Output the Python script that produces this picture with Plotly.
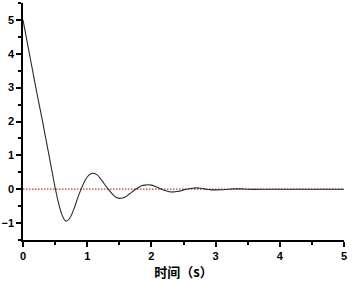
import plotly.graph_objects as go

t_values = [0.0, 0.05, 0.1, 0.15, 0.2, 0.25, 0.3, 0.35, 0.4, 0.45, 0.5, 0.55, 0.6, 0.65, 0.68,
            0.72, 0.75, 0.8, 0.85, 0.9, 0.95, 1.0, 1.05, 1.1, 1.15, 1.2, 1.25, 1.3, 1.35, 1.4,
            1.45, 1.5, 1.55, 1.6, 1.65, 1.7, 1.75, 1.8, 1.85, 1.9, 1.95, 2.0, 2.05, 2.1, 2.15,
            2.2, 2.25, 2.3, 2.35, 2.4, 2.45, 2.5, 2.55, 2.6, 2.65, 2.7, 2.75, 2.8, 2.85, 2.9,
            2.95, 3.0, 3.1, 3.2, 3.3, 3.4, 3.5, 3.6, 3.8, 4.0, 4.5, 5.0]
y_values = [5.0, 4.5, 4.0, 3.5, 3.0, 2.52, 2.05, 1.55, 1.05, 0.55, 0.05, -0.38, -0.72, -0.91, -0.94,
            -0.88, -0.78, -0.55, -0.27, -0.02, 0.2, 0.36, 0.45, 0.47, 0.43, 0.33, 0.2, 0.07, -0.05, -0.16,
            -0.24, -0.27, -0.26, -0.22, -0.15, -0.08, -0.01, 0.05, 0.1, 0.12, 0.13, 0.12, 0.09, 0.05, 0.01,
            -0.03, -0.06, -0.08, -0.08, -0.07, -0.05, -0.02, 0.0, 0.02, 0.03, 0.04, 0.03, 0.02, 0.0, -0.01,
            -0.02, -0.02, -0.015, 0.0, 0.01, 0.01, 0.0, -0.005, 0.0, 0.0, 0.0, 0.0]
ref_x = [0, 5]
ref_y = [0, 0]
x_title = "时间（s）"

fig = go.Figure()
fig.add_trace(go.Scatter(x=ref_x, y=ref_y, mode="lines",
                         line=dict(color="#c03838", width=1.2, dash="1.5px,1.5px"), showlegend=False))
fig.add_trace(go.Scatter(x=t_values, y=y_values, mode="lines",
                         line=dict(color="#2a2a2a", width=1.1, shape="spline", smoothing=0.6),
                         showlegend=False))

axis_common = dict(showline=True, linecolor="black", linewidth=1.5, ticks="outside",
                   ticklen=5, tickwidth=1.5, tickcolor="black", showgrid=False, zeroline=False,
                   automargin=False,
                   tickfont=dict(family="Liberation Sans, Arial", size=11, color="black", weight="bold"))
fig.update_xaxes(range=[0, 5], dtick=1, tick0=0,
                 minor=dict(ticks="outside", ticklen=3, dtick=0.5, tickcolor="black", tickwidth=1.5),
                 title=dict(text=x_title, font=dict(family="Noto Sans CJK SC", size=13, color="black",
                                                    weight="bold"), standoff=7),
                 **axis_common)
fig.update_yaxes(range=[-1.5, 5.5], dtick=1, tick0=0,
                 minor=dict(ticks="outside", ticklen=3, dtick=0.5, tickcolor="black", tickwidth=1.5),
                 **axis_common)
fig.update_layout(width=358, height=281, margin=dict(l=23, r=14, t=3, b=41),
                  plot_bgcolor="white", paper_bgcolor="white")
fig.write_html("out.html", post_script="document.body.style.margin='0';",
               config={"displayModeBar": False})
